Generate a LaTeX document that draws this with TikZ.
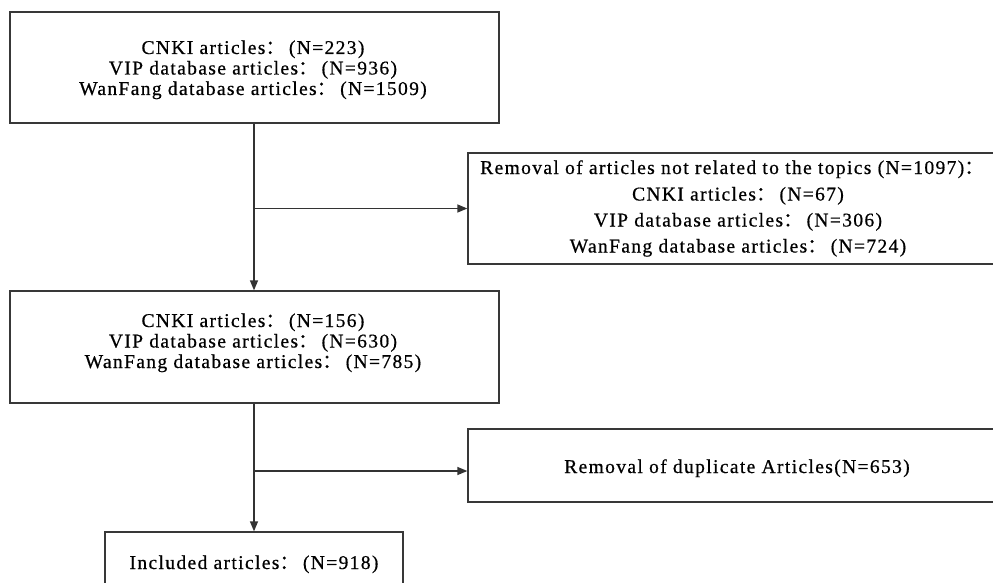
\documentclass[tikz,border=0pt]{standalone}
\usepackage{fontspec}
\setmainfont{Liberation Serif}[LetterSpace=7,FakeBold=0.6]
\newfontfamily\cjk{Noto Sans CJK SC}[FakeBold=0.6]
\usetikzlibrary{arrows.meta}
\newcommand{\cnc}{{\cjk ：}\hspace{4pt}}
\begin{document}
\begin{tikzpicture}[x=1pt,y=-1pt,
  box/.style={draw=black!78, line width=1.3pt, inner sep=0pt, rectangle},
  txt/.style={anchor=base, inner sep=0pt, font=\fontsize{19.5}{21}\selectfont},
  conn/.style={draw=black!80, line width=1.3pt, -{Triangle[length=10pt,width=8pt]}}]
\useasboundingbox (0,0) rectangle (993,583);
\fill[white] (0,0) rectangle (993,583);
\clip (0,0) rectangle (993,583);
% boxes
\node[box, minimum width=489pt, minimum height=111pt] (b1) at (254.5,67.5) {};
\node[box, minimum width=540pt, minimum height=111pt] (b2) at (738,208.5) {};
\node[box, minimum width=489pt, minimum height=112pt] (b3) at (254.5,347) {};
\node[box, minimum width=540pt, minimum height=73pt] (b4) at (738,465.5) {};
\node[box, minimum width=298pt, minimum height=72pt] (b5) at (254,568) {};
% texts
\node[txt] (t1a) at (253,54) {CNKI articles\cnc(N=223)};
\node[txt] (t1b) at (253,74.5) {VIP database articles\cnc(N=936)};
\node[txt] (t1c) at (253,95) {WanFang database articles\cnc(N=1509)};
\node[txt] (t2a) at (732,174) {Removal of articles not related to the topics (N=1097){\cjk ：}};
\node[txt] (t2b) at (738,200.5) {CNKI articles\cnc(N=67)};
\node[txt] (t2c) at (738,226.5) {VIP database articles\cnc(N=306)};
\node[txt] (t2d) at (738,252.5) {WanFang database articles\cnc(N=724)};
\node[txt] (t3a) at (253,327) {CNKI articles\cnc(N=156)};
\node[txt] (t3b) at (253,347.5) {VIP database articles\cnc(N=630)};
\node[txt] (t3c) at (253,368) {WanFang database articles\cnc(N=785)};
\node[txt] (t4) at (737,473) {Removal of duplicate Articles(N=653)};
\node[txt] (t5) at (254,569) {Included articles\cnc(N=918)};
% connectors
\coordinate (j1) at (254,208.5);
\coordinate (j2) at (254,471);
\draw[conn] (b1.south -| j1) -- (b3.north -| j1);
\draw[conn] (j1) -- (b2.west);
\draw[conn] (b3.south -| j2) -- (b5.north -| j2);
\draw[conn] (j2) -- (j2 -| b4.west);
\end{tikzpicture}
\end{document}
